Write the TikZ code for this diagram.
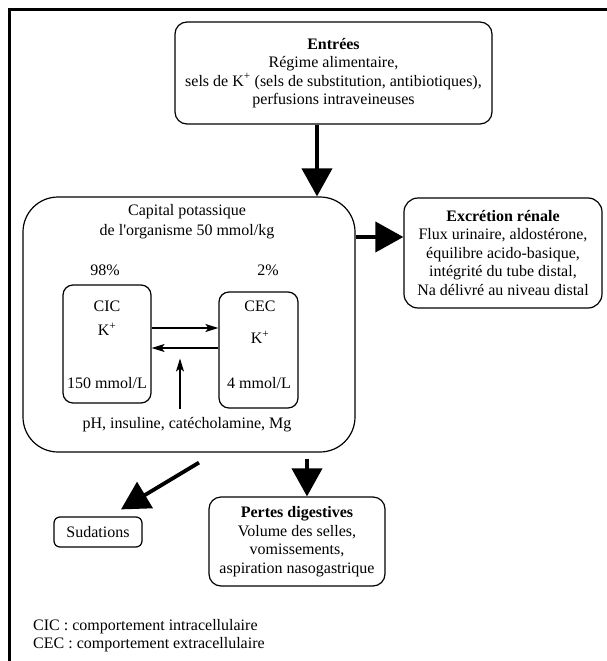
\documentclass[tikz,border=0pt]{standalone}
\usepackage{fontspec}
\setmainfont{Liberation Serif}
\usetikzlibrary{arrows.meta}
\begin{document}
\begin{tikzpicture}[x=1pt,y=-1pt,
    every node/.style={font=\fontsize{16}{18.5}\selectfont},
    bloc/.style={draw,line width=1.2pt,rounded corners=#1,align=center,inner sep=0pt},
    bloc/.default=12pt,
    bigarrow/.style={line width=3.8pt,-{Triangle[length=28pt,width=30pt]}},
    thinarrow/.style={line width=1.3pt,-{Stealth[length=13pt,width=8pt,inset=3pt]}}]
    \newcommand{\Kplus}{K\textsuperscript{+}}
  \useasboundingbox (0,0) rectangle (607,661);
  \draw[line width=2.5pt] (9.5,661) -- (9.5,9.5) -- (607,9.5);

  \node[bloc,minimum width=317pt,minimum height=102pt] (entrees) at (333.5,73)
    {\textbf{Entrées}\\Régime alimentaire,\\sels de \Kplus{} (sels de substitution, antibiotiques),\\perfusions intraveineuses};

  \node[bloc=35pt,minimum width=332pt,minimum height=255pt] (main) at (189,324.5) {};
  \node[align=center,inner sep=1pt] (capital) at (187,222) {Capital potassique\\[1.5pt]de l\textquotesingle organisme 50 mmol/kg};
  \node (pcic) at (105,270) {98\%};
  \node (pcec) at (268,270) {2\%};

  \node[bloc=10pt,minimum width=88pt,minimum height=118pt] (cic) at (107,344) {};
  \node (cicname) at (107,306) {CIC};
  \node (cick) at (107,329) {\Kplus};
  \node (cicval) at (107,383) {150 mmol/L};

  \node[bloc=10pt,minimum width=79pt,minimum height=116pt] (cec) at (258.5,350) {};
  \node (cecname) at (260,306) {CEC};
  \node (ceck) at (260,337) {\Kplus};
  \node (cecval) at (259,383) {4 mmol/L};

  \node[inner sep=1pt] (ph) at (187,425) {pH, insuline, catécholamine, Mg};

  \node[bloc=14pt,minimum width=198pt,minimum height=110pt] (excr) at (503,253)
    {\textbf{Excrétion rénale}\\Flux urinaire, aldostérone,\\équilibre acido-basique,\\intégrité du tube distal,\\Na délivré au niveau distal};

  \node[bloc=12pt,minimum width=176pt,minimum height=89pt] (pertes) at (297,541.5)
    {\textbf{Pertes digestives}\\Volume des selles,\\vomissements,\\aspiration nasogastrique};

  \node[bloc=6pt,minimum width=88pt,minimum height=30pt] (sud) at (98,532) {Sudations};

  \node[anchor=west,inner sep=0pt] (legcic) at (33,627) {CIC : comportement intracellulaire};
  \node[anchor=west,inner sep=0pt] (legcec) at (33,645) {CEC : comportement extracellulaire};

  \coordinate (capin) at ([xshift=128pt]main.north);
  \coordinate (excrin) at ([yshift=16pt]excr.west);
  \coordinate (pertin) at ([xshift=10pt]pertes.north);
  \coordinate (fwd) at ([yshift=16pt]cic.east);
  \coordinate (back) at ([yshift=-4pt]cic.east);
  \coordinate (phtip) at ([xshift=-7pt,yshift=58pt]ph.north);

  \draw[bigarrow] (entrees.south -| capin) -- (capin);
  \draw[bigarrow] (main.east |- excrin) -- (excrin);
  \draw[bigarrow,shorten <=6pt] (main.south -| pertin) -- (pertin);
  \draw[bigarrow] ([xshift=10pt,yshift=-10pt]main.south) -- ([xshift=23pt,yshift=7pt]sud.north);
  \draw[thinarrow] (fwd) -- (fwd -| cec.west);
  \draw[thinarrow] (back -| cec.west) -- (back);
  \draw[thinarrow] ([xshift=-7pt,yshift=8pt]ph.north) -- (phtip);
\end{tikzpicture}
\end{document}
